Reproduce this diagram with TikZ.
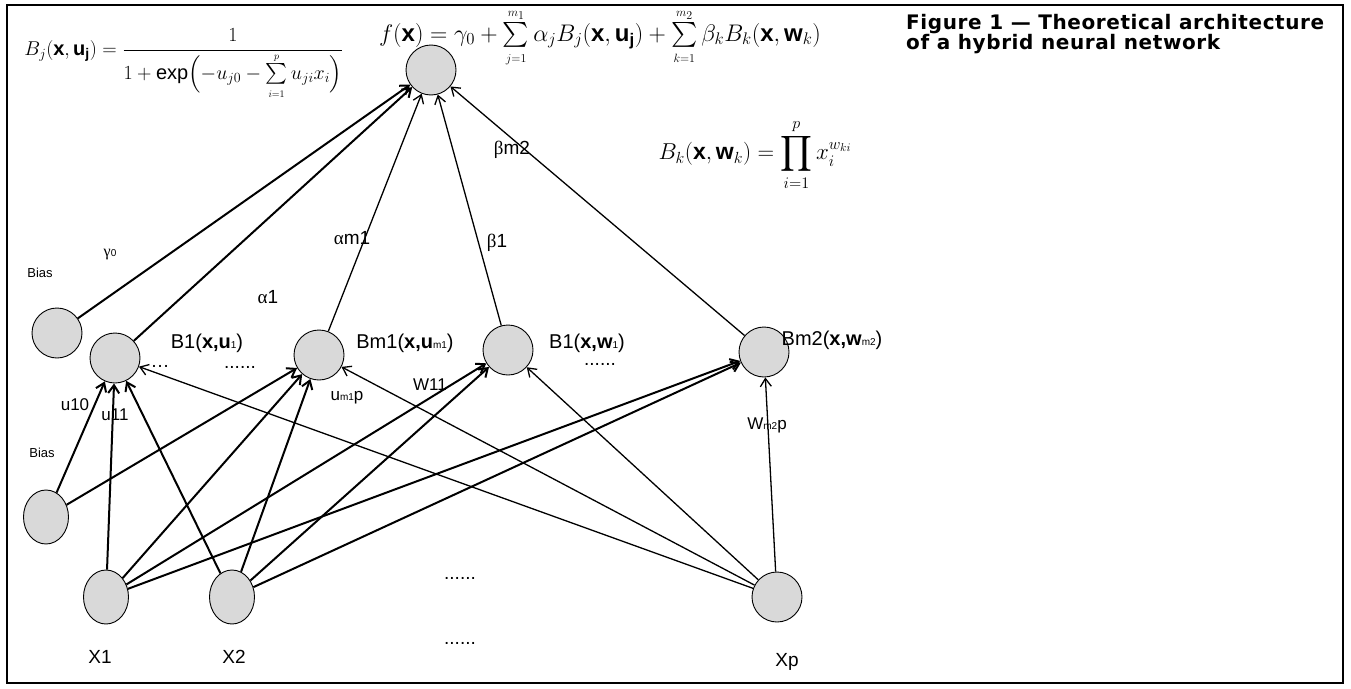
\RequirePackage{fix-cm}
\documentclass[tikz,border=0pt]{standalone}
\usepackage{amsmath}
\usepackage{fontspec}
\setmainfont{Liberation Sans}
\newfontfamily\titlefont[LetterSpace=3]{DejaVu Sans}
\newfontfamily\greekfont{Liberation Serif}
\usepackage{tikz}
\usetikzlibrary{arrows.meta, positioning, shapes}

\newcommand{\tinyidx}[1]{{\fontsize{10}{10}\selectfont #1}}
\newcommand{\gr}[1]{{\greekfont #1}}

\begin{document}
\begin{tikzpicture}[x=1pt, y=-1pt,
    neuron/.style={circle, draw, fill=gray!30, minimum size=50pt, inner sep=0pt, line width=0.9pt},
    inneuron/.style={ellipse, draw, fill=gray!30, minimum width=45pt, minimum height=54pt, inner sep=0pt, line width=0.9pt},
    wire/.style={line width=2pt, -{Straight Barb[length=8pt,width=11pt]}},
    thinwire/.style={line width=1.3pt, -{Straight Barb[length=8pt,width=11pt]}},
    lbl/.style={inner sep=0pt, font=\fontsize{19}{21}\selectfont},
    wlbl/.style={inner sep=0pt, font=\fontsize{17}{19}\selectfont},
    small/.style={inner sep=0pt, font=\fontsize{13}{15}\selectfont}]
    \useasboundingbox (0,0) rectangle (1351,688);
    \draw[line width=2pt] (7,5) rectangle (1343,683);

    % formulas and title
    \node (fx) at (600,38) {\fontsize{24}{26}\selectfont $f(\mathbf{x})=\gamma_0+\sum\limits_{\scriptscriptstyle j=1}^{\scriptscriptstyle m_1}\alpha_j B_j(\mathbf{x},\mathbf{u}_\mathbf{j})+\sum\limits_{\scriptscriptstyle k=1}^{\scriptscriptstyle m_2}\beta_k B_k(\mathbf{x},\mathbf{w}_k)$};
    \node (bj) at (184,64) {\fontsize{20}{24}\selectfont $B_j(\mathbf{x},\mathbf{u}_\mathbf{j})=\dfrac{1}{1+\exp\Bigl(-u_{j0}-\sum\limits_{\scriptscriptstyle i=1}^{\scriptscriptstyle p}u_{ji}x_i\Bigr)}$};
    \node (bk) at (755,155) {\fontsize{23}{26}\selectfont $\displaystyle B_k(\mathbf{x},\mathbf{w}_k)=\prod_{i=1}^{p}x_i^{w_{ki}}$};
    \node[anchor=north west, align=left, inner sep=0pt, font=\titlefont\bfseries\fontsize{20}{17}\selectfont] (title) at (906,14) {Figure 1 — Theoretical architecture\\of a hybrid neural network};

    \node[neuron] (O) at (431,70) {};
    \node[neuron] (HB) at (57,333) {};
    \node[neuron] (B1) at (115,358) {};
    \node[neuron] (Bm1) at (319,355) {};
    \node[neuron] (W1) at (508,350) {};
    \node[neuron] (Wm2) at (764,352) {};
    \node[inneuron] (LB) at (46,517) {};
    \node[inneuron] (X1) at (106,597) {};
    \node[inneuron] (X2) at (232,597) {};
    \node[neuron] (Xp) at (777,597) {};

    \draw[wire] (HB) -- (O);
    \draw[wire] (B1) -- (O);
    \draw[thinwire] (Bm1) -- (O);
    \draw[thinwire] (W1) -- (O);
    \draw[thinwire] (Wm2) -- (O);

    \foreach \t in {B1, Bm1}
        \draw[wire] (LB) -- (\t);
    \foreach \s in {X1, X2}
        \foreach \t in {B1, Bm1, W1, Wm2}
            \draw[wire] (\s) -- (\t);
    \foreach \t in {B1, Bm1, W1, Wm2}
        \draw[thinwire] (Xp) -- (\t);

    % labels
    \node[small] (biastop) at (40,273) {Bias};
    \node[small] (biasbot) at (42,453) {Bias};
    \node[lbl, font=\fontsize{16}{18}\selectfont] (g0) at (110,255) {\gr{γ}\tinyidx{0}};
    \node[lbl] (a1) at (268,297) {\gr{α}1};
    \node[lbl] (am1) at (352,238) {\gr{α}m1};
    \node[lbl] (b1) at (497,243) {\gr{β}1};
    \node[lbl] (bm2) at (512,150) {\gr{β}m2};
    \node[lbl, font=\fontsize{20}{22}\selectfont] (B1lab) at (207,343) {B1(\textbf{x,u}\tinyidx{1})};
    \node[lbl, font=\fontsize{20}{22}\selectfont] (Bm1lab) at (405,343) {Bm1(\textbf{x,u}\tinyidx{m1})};
    \node[lbl, font=\fontsize{20}{22}\selectfont] (W1lab) at (587,343) {B1(\textbf{x,w}\tinyidx{1})};
    \node[lbl, font=\fontsize{20}{22}\selectfont] (Wm2lab) at (832,340) {Bm2(\textbf{x,w}\tinyidx{m2})};
    \node[lbl] (dots1) at (160,366) {\ldots};
    \node[lbl] (dots2) at (240,367) {......};
    \node[lbl] (dots3) at (600,364) {......};
    \node[wlbl] (u10) at (75,405) {u10};
    \node[wlbl] (u11) at (115,415) {u11};
    \node[wlbl] (um1p) at (347,398) {u\tinyidx{m1}p};
    \node[wlbl] (w11) at (430,385) {W11};
    \node[wlbl] (wm2p) at (767,425) {W\tinyidx{m2}p};
    \node[lbl] (x1lab) at (100,657) {X1};
    \node[lbl] (x2lab) at (234,657) {X2};
    \node[lbl] (xplab) at (787,662) {Xp};
    \node[lbl] (dots4) at (460,578) {......};
    \node[lbl] (dots5) at (460,643) {......};
\end{tikzpicture}
\end{document}
